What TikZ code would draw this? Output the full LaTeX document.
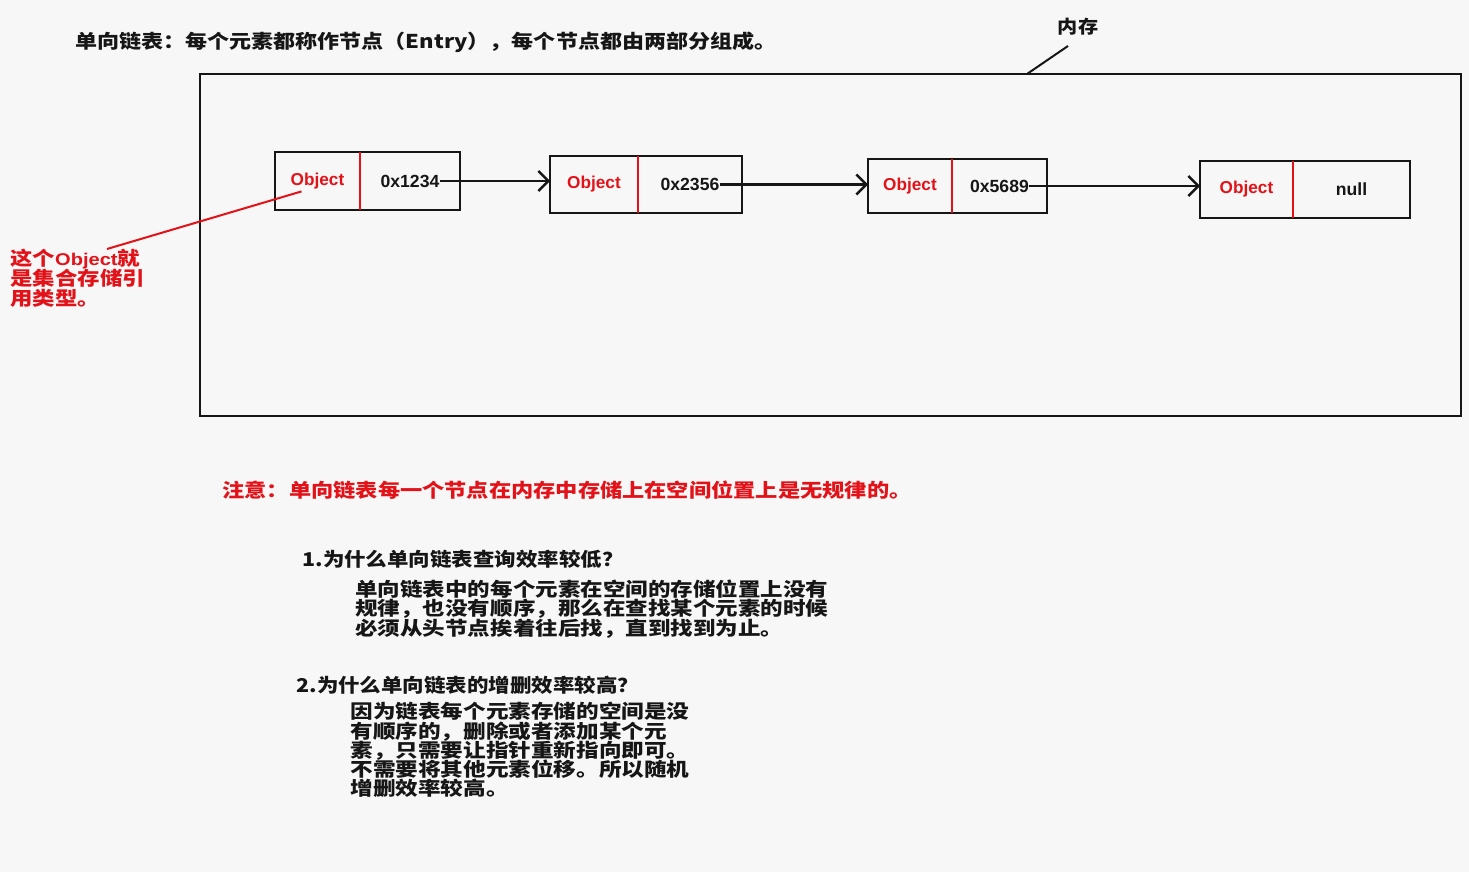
\documentclass[tikz,border=0pt]{standalone}
\usepackage{graphicx}
\usepackage{fontspec}
\setmainfont{Noto Sans CJK SC}
\newfontfamily\latinfont{Liberation Sans}
\usetikzlibrary{arrows.meta,positioning,calc}
\definecolor{paper}{RGB}{247,247,247}
\definecolor{mark}{RGB}{226,18,24}
\definecolor{ink}{RGB}{22,22,22}
\lineskiplimit=-20pt
\newcommand{\hwide}[2][1.18]{\scalebox{#1}[1]{#2}}

\tikzset{
  cellbox/.style={inner sep=0pt,outer sep=0pt},
  boxline/.style={draw=ink,line width=1pt},
  divider/.style={draw=mark,line width=1pt},
  objtext/.style={inner sep=0pt,text=mark,font=\latinfont\bfseries\fontsize{8.6pt}{10pt}\selectfont},
  addrtext/.style={inner sep=0pt,text=ink,font=\latinfont\bfseries\fontsize{8.8pt}{10pt}\selectfont},
  link/.style={draw=ink,line width=1.1pt,-{Straight Barb[length=5pt,width=10pt,line width=1.2pt]}},
  pointer/.style={draw=mark,line width=1pt},
  cjktext/.style={inner sep=0pt,align=left,font=\bfseries\fontsize{9.5pt}{9.75pt}\selectfont},
}

\begin{document}
\begin{tikzpicture}[x=0.5pt,y=-0.5pt]
  \fill[paper] (0,0) rectangle (1469,872);
  \useasboundingbox (0,0) rectangle (1469,872);

  % heading and memory frame
  \node[cjktext,text=ink,anchor=west] (title) at (75,42) {\hwide[1.16]{单向链表：每个元素都称作节点（Entry），每个节点都由两部分组成。}};
  \node[cellbox,draw=ink,line width=1.2pt,minimum width=630.5pt,minimum height=171pt,anchor=north west] (mem) at (200,74) {};
  \node[cjktext,text=ink,font=\bfseries\fontsize{9pt}{10pt}\selectfont] (memlbl) at (1078,27) {\hwide[1.12]{内存}};
  \coordinate (memtick) at (1027,74);
  \draw[ink,line width=1pt] (memtick) -- ($(memlbl.south)+(-10,10)$);

  % the entries
  \foreach \n/\x/\y/\wa/\wb/\h/\addr in {1/275/152/85/100/58/0x1234,2/550/156/88/104/57/0x2356,
      3/868/159/84/95/54/0x5689,4/1200/161/93/117/57/null}{
    \node[cellbox,minimum width={\wa*0.5pt},minimum height={\h*0.5pt},anchor=north west] (o\n) at (\x,\y) {};
    \node[cellbox,minimum width={\wb*0.5pt},minimum height={\h*0.5pt},right=0pt of o\n] (p\n) {};
    \draw[boxline] (o\n.north west) rectangle (p\n.south east);
    \draw[divider] (o\n.north east) -- (o\n.south east);
    \node[objtext] (b\n) at (o\n) {Object};
    \node[addrtext] (a\n) at (p\n) {\addr};
  }
  \foreach \i/\j in {1/2,2/3,3/4}
    \draw[link] (a\i.east) -- (a\i.east -| o\j.west);

  % reference note
  \node[cjktext,text=mark,anchor=north west,font=\bfseries\fontsize{9.5pt}{10pt}\selectfont] (refnote) at (10,249)
    {\hwide{这个{\latinfont\fontsize{8.5pt}{10pt}\selectfont Object}就}\\\hwide{是集合存储引}\\\hwide{用类型。}};
  \coordinate (pin) at ($(b1.south)+(-16,2)$);
  \coordinate (pinend) at (107,249);
  \draw[pointer] (pin) -- (pinend);

  % notes below
  \node[cjktext,text=mark,anchor=west] (warn) at (222,490) {\hwide[1.17]{注意：单向链表每一个节点在内存中存储上在空间位置上是无规律的。}};
  \node[cjktext,text=ink,anchor=west] (q1) at (302,559) {\hwide[1.13]{1.为什么单向链表查询效率较低？}};
  \node[cjktext,text=ink,anchor=north west] (a1txt) at (355,579)
    {\hwide[1.185]{单向链表中的每个元素在空间的存储位置上没有}\\\hwide[1.185]{规律，也没有顺序，那么在查找某个元素的时候}\\\hwide[1.185]{必须从头节点挨着往后找，直到找到为止。}};
  \node[cjktext,text=ink,anchor=west] (q2) at (296,685) {\hwide[1.13]{2.为什么单向链表的增删效率较高？}};
  \node[cjktext,text=ink,anchor=north west,font=\bfseries\fontsize{9.5pt}{9.6pt}\selectfont] (a2txt) at (350,702)
    {\hwide[1.19]{因为链表每个元素存储的空间是没}\\\hwide[1.19]{有顺序的，删除或者添加某个元}\\\hwide[1.19]{素，只需要让指针重新指向即可。}\\\hwide[1.19]{不需要将其他元素位移。所以随机}\\\hwide[1.19]{增删效率较高。}};
\end{tikzpicture}
\end{document}
